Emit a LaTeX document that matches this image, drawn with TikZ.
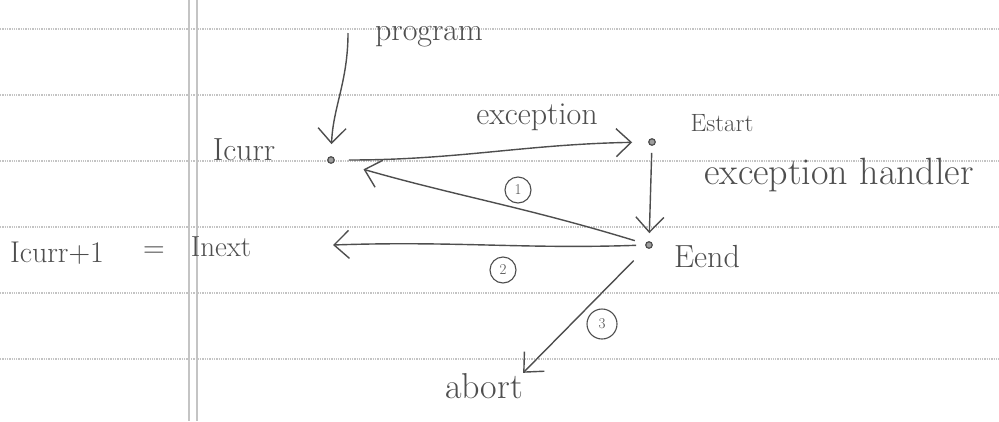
\documentclass[tikz,border=0pt]{standalone}
\usepackage{fontspec}
\usetikzlibrary{arrows.meta}
\definecolor{pencil}{HTML}{4E4E4E}
\definecolor{paperrule}{HTML}{C4C4C4}
\begin{document}
\begin{tikzpicture}[x=1pt,y=-1pt,
  pen/.style={draw=pencil, line width=1.4pt, -{Straight Barb[length=15pt,width=28pt,line width=1.4pt]}},
  dot/.style={circle, draw=pencil, fill=pencil!55, line width=1.2pt, inner sep=0pt, minimum size=6.5pt},
  lbl/.style={text=pencil, inner sep=0pt, anchor=base, font=\fontsize{32}{36}\selectfont},
  num/.style={circle, draw=pencil, line width=1.1pt, text=pencil, inner sep=0pt, minimum size=26pt, font=\fontsize{15}{17}\selectfont},
  ruleline/.style={draw=paperrule, line width=1.3pt, densely dotted},
  margin/.style={draw=paperrule, line width=2.2pt}
]
\useasboundingbox (0,0) rectangle (999,421);
\fill[white] (0,0) rectangle (999,421);
% ruled paper
\foreach \y in {29,95,161,227,293,359} \draw[ruleline] (0,\y) -- (999,\y);
\foreach \x in {189,197} \draw[margin] (\x,0) -- (\x,421);

% points
\node[dot] (ic) at (331,160) {};
\node[dot] (es) at (652,142) {};
\node[dot] (ee) at (649,245) {};

% labels
\node[lbl] (iclbl) at (244,160) {Icurr};
\node[lbl] (prog) at (429,40) {program};
\node[lbl] (exc) at (537,124) {exception};
\node[lbl, font=\fontsize{25}{28}\selectfont] (eslbl) at (722,131) {Estart};
\node[lbl, font=\fontsize{38}{42}\selectfont] (handler) at (839,184) {exception handler};
\node[lbl] (eelbl) at (707,267) {Eend};
\node[lbl, font=\fontsize{30}{34}\selectfont] (icp) at (57,262) {Icurr+1};
\node[lbl, font=\fontsize{30}{34}\selectfont] (eq) at (154,257) {=};
\node[lbl, font=\fontsize{29}{33}\selectfont] (inx) at (221,256) {Inext};
\node[lbl, font=\fontsize{36}{40}\selectfont] (abort) at (484,398) {abort};

% circled numbers
\node[num] (n1) at (518,190) {1};
\node[num] (n2) at (503,270) {2};
\node[num, minimum size=30pt] (n3) at (602,324) {3};

% free ends
\coordinate (pg) at (348,33);
\coordinate (nx) at (333,245);

% connectors
\draw[pen, shorten >=12pt] (pg) to[out=-90,in=88] (ic);
\draw[pen, shorten <=14pt, shorten >=16pt] (ic) to[out=0,in=181] (es);
\draw[pen, shorten <=7pt, shorten >=8pt] (es) -- (ee);
\draw[pen, shorten <=11pt, shorten >=30pt] (ee) to[out=163,in=-16] (ic);
\draw[pen, shorten <=9pt] (ee.west) to[out=182,in=2] (nx);
\draw[pen, shorten <=18pt] (ee) -- (abort.north east);
\end{tikzpicture}
\end{document}
